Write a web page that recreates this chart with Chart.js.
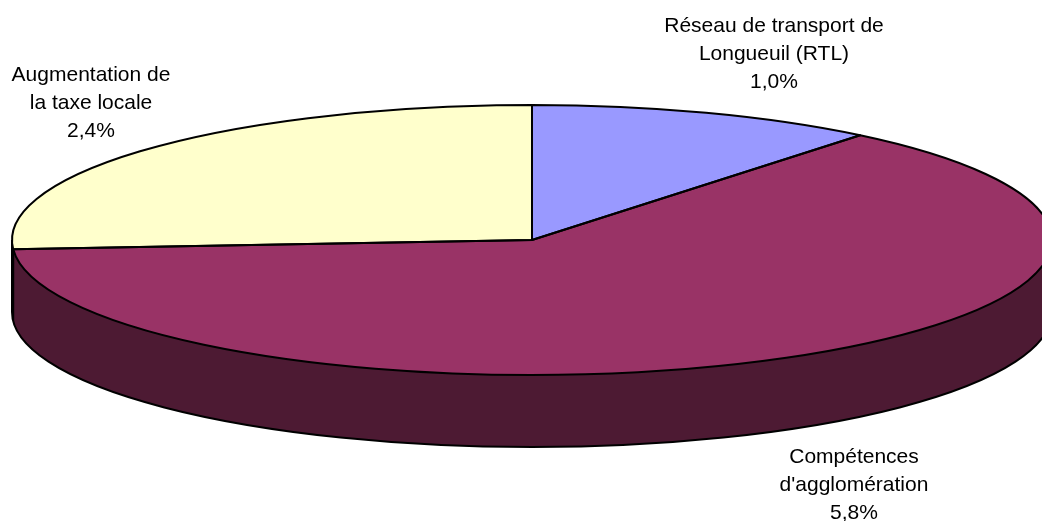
<!DOCTYPE html>
<html>
<head>
<meta charset="utf-8">
<script src="https://cdn.jsdelivr.net/npm/chart.js@4.4.0/dist/chart.umd.min.js"></script>
<style>
  html, body { margin: 0; padding: 0; background: #fff; }
</style>
</head>
<body>
<canvas id="myChart" width="1042" height="521"></canvas>
<script>
// data
const categories = [
  ['Réseau de transport de', 'Longueuil (RTL)'],
  ['Compétences', "d'agglomération"],
  ['Augmentation de', 'la taxe locale'],
];
const values = [1.0, 5.8, 2.4];
const topColors = ['#9999FF', '#993366', '#FFFFCC'];
const sideColors = ['#4D4D80', '#4D1A33', '#808066'];

function fmt(v) {
  return v.toFixed(1).replace('.', ',') + '%';
}

// squash the pie into an ellipse and give it a side wall
const pie3d = {
  id: 'pie3d',
  beforeDatasetsDraw(chart, args, opts) {
    const ctx = chart.ctx;
    const arcs = chart.getDatasetMeta(0).data;
    const cx = arcs[0].x;
    const cy = arcs[0].y;
    const r = arcs[0].outerRadius;
    const rx = opts.rx;
    const ry = opts.ry;
    const depth = opts.depth;

    // side wall: only the front half (0..PI) can be seen
    arcs.forEach((a, i) => {
      for (let k = -1; k <= 1; k++) {
        const off = k * 2 * Math.PI;
        const s = Math.max(a.startAngle + off, 0);
        const e = Math.min(a.endAngle + off, Math.PI);
        if (e <= s) continue;
        ctx.beginPath();
        ctx.ellipse(cx, cy, rx, ry, 0, s, e);
        ctx.ellipse(cx, cy + depth, rx, ry, 0, e, s, true);
        ctx.closePath();
        ctx.fillStyle = sideColors[i];
        ctx.fill();
      }
    });

    // outline of the wall
    ctx.save();
    ctx.beginPath();
    ctx.ellipse(cx, cy + depth, rx, ry, 0, 0, Math.PI);
    ctx.moveTo(cx + rx, cy);
    ctx.lineTo(cx + rx, cy + depth);
    ctx.moveTo(cx - rx, cy);
    ctx.lineTo(cx - rx, cy + depth);
    arcs.forEach(a => {
      const sn = Math.sin(a.startAngle);
      if (sn > 0) {
        const x = cx + rx * Math.cos(a.startAngle);
        const y = cy + ry * sn;
        ctx.moveTo(x, y);
        ctx.lineTo(x, y + depth);
      }
    });
    ctx.strokeStyle = '#000';
    ctx.lineWidth = 2;
    ctx.stroke();
    ctx.restore();

    // top face in squashed space
    ctx.save();
    ctx.translate(cx, cy);
    ctx.scale(rx / r, ry / r);
    ctx.translate(-cx, -cy);
  },
  afterDatasetsDraw(chart, args, opts) {
    const ctx = chart.ctx;
    ctx.restore();
    const arcs = chart.getDatasetMeta(0).data;
    const cx = arcs[0].x;
    const cy = arcs[0].y;
    const r = arcs[0].outerRadius;
    arcs.forEach(a => {
      ctx.save();
      ctx.translate(cx, cy);
      ctx.scale(opts.rx / r, opts.ry / r);
      ctx.translate(-cx, -cy);
      ctx.beginPath();
      ctx.moveTo(cx, cy);
      ctx.arc(cx, cy, r, a.startAngle, a.endAngle);
      ctx.closePath();
      ctx.restore();
      ctx.strokeStyle = '#000';
      ctx.lineWidth = 2;
      ctx.lineJoin = 'round';
      ctx.stroke();
    });
  },
  afterDraw(chart, args, opts) {
    const ctx = chart.ctx;
    ctx.save();
    ctx.font = opts.font;
    ctx.fillStyle = '#000';
    ctx.textAlign = 'center';
    ctx.textBaseline = 'alphabetic';
    chart.data.labels.forEach((lines, i) => {
      const [x, y] = opts.labelPos[i];
      const all = lines.concat([fmt(values[i])]);
      all.forEach((t, j) => ctx.fillText(t, x, y + j * opts.lineHeight));
    });
    ctx.restore();
  },
};

const ctx = document.getElementById('myChart').getContext('2d');
new Chart(ctx, {
  type: 'pie',
  data: {
    labels: categories,
    datasets: [
      {
        data: values,
        backgroundColor: topColors,
        borderWidth: 0,
        clip: false,
      },
    ],
  },
  options: {
    responsive: false,
    animation: false,
    devicePixelRatio: 1,
    events: [],
    layout: { padding: { left: 22, bottom: 41 } },
    plugins: {
      legend: { display: false },
      tooltip: { enabled: false },
      pie3d: {
        rx: 520,
        ry: 135,
        depth: 72,
        font: '21px "Liberation Sans", Arial, sans-serif',
        lineHeight: 28,
        labelPos: [[774, 32], [854, 463], [91, 81]],
      },
    },
  },
  plugins: [pie3d],
});
</script>
</body>
</html>
